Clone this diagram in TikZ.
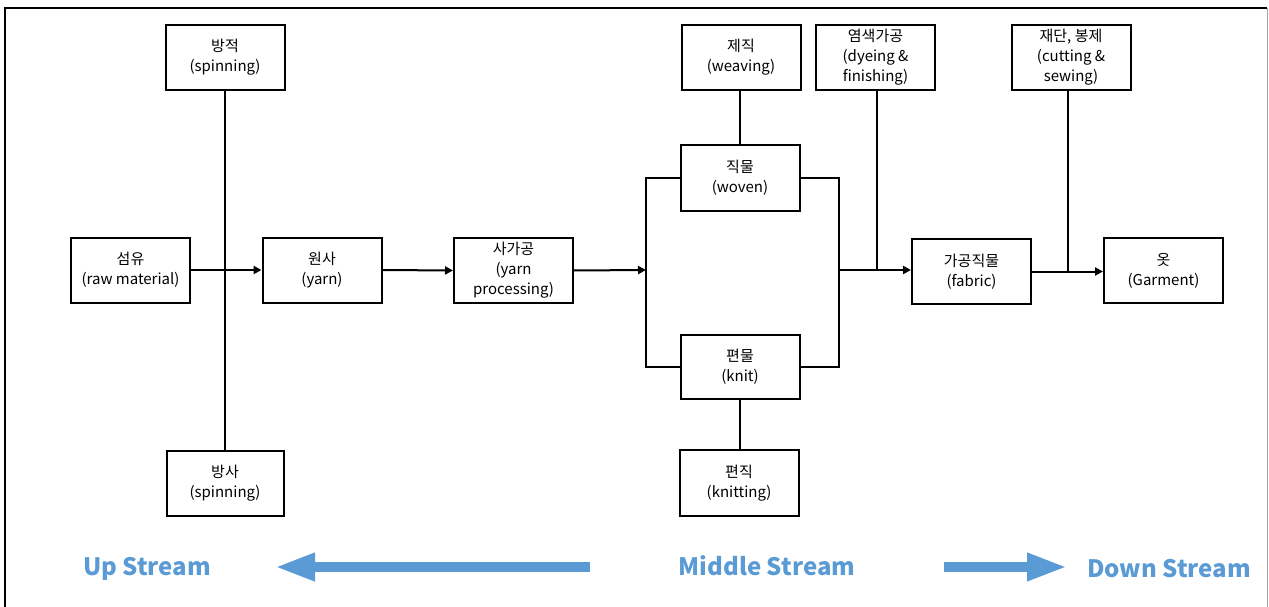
\documentclass[tikz,border=0pt]{standalone}
\usepackage{fontspec}
\setmainfont{Noto Sans CJK KR}
\usetikzlibrary{arrows.meta}
\definecolor{streamblue}{HTML}{5B9BD5}
\tikzset{
  box/.style={draw, line width=2pt, minimum width=119pt, minimum height=65pt,
    align=center, inner sep=1pt, font=\fontsize{15}{20}\selectfont},
  conn/.style={line width=2pt},
  flow/.style={line width=2pt, -{Triangle[length=8pt,width=8pt]}},
  streamlabel/.style={text=streamblue, font=\fontsize{24}{26}\selectfont\bfseries},
  bigarrow/.style={draw=streamblue, line width=9.5pt, -{Triangle[length=40pt,width=26pt]}}
}
\begin{document}
\begin{tikzpicture}[x=1pt, y=-1pt]
\useasboundingbox (0,0) rectangle (1269,607);
% frame
\draw[line width=1.2pt] (5,607) -- (5,8) -- (1267,8);
\draw[line width=1pt, black!35] (1267,8) -- (1267,607);

% boxes
\node[box] (spinA) at (225,57.5) {방적\\(spinning)};
\node[box] (raw) at (130.5,270) {섬유\\(raw material)};
\node[box] (yarn) at (322,270) {원사\\(yarn)};
\node[box, minimum width=117pt] (spinB) at (225,483.5) {방사\\(spinning)};
\node[box] (yproc) at (513.5,270.5) {사가공\\(yarn\\processing)};
\node[box] (weaving) at (741,57.5) {제직\\(weaving)};
\node[box] (woven) at (740,178) {직물\\(woven)};
\node[box, minimum height=64pt] (knit) at (740,366.5) {편물\\(knit)};
\node[box, minimum height=66pt] (knitting) at (739,483) {편직\\(knitting)};
\node[box] (dye) at (875.5,57.5) {염색가공\\(dyeing \&\\finishing)};
\node[box] (fabric) at (971.5,271.5) {가공직물\\(fabric)};
\node[box] (cut) at (1071,57.5) {재단, 봉제\\(cutting \&\\sewing)};
\node[box] (garment) at (1163.5,270.5) {옷\\(Garment)};

% junctions
\coordinate (L) at (646,270);
\coordinate (R) at (839,270);

% connectors
\draw[conn] (spinA.south) -- (spinB.north);
\draw[flow] (raw.east) -- (yarn.west);
\draw[flow] (yarn.east) -- (yproc.west);
\draw[flow] (yproc.east) -- (L);
\draw[conn] (woven.west) -| (L) |- (knit.west);
\draw[conn] (woven.east) -| (R) |- (knit.east);
\draw[conn] (weaving.south -| woven.north) -- (woven.north);
\draw[conn] (knit.south) -- (knit.south |- knitting.north);
\draw[flow] (R) -- (R -| fabric.west);
\draw[conn] ([xshift=1.5pt]dye.south) -- ([xshift=1.5pt]dye.south |- R);
\draw[flow] (fabric.east) -- (fabric.east -| garment.west);
\draw[conn] ([xshift=-3pt]cut.south) -- ([xshift=-3pt]cut.south |- fabric.east);

% stream labels
\node[streamlabel] (up) at (147,569) {Up Stream};
\node[streamlabel] (mid) at (767,566) {Middle Stream};
\node[streamlabel] (down) at (1169,569) {Down Stream};
\coordinate (upA) at (590,567);
\coordinate (upB) at (275,567);
\coordinate (dnA) at (944,567);
\coordinate (dnB) at (1067,567);
\draw[bigarrow] (upA) -- (upB);
\draw[bigarrow] (dnA) -- (dnB);
\end{tikzpicture}
\end{document}
